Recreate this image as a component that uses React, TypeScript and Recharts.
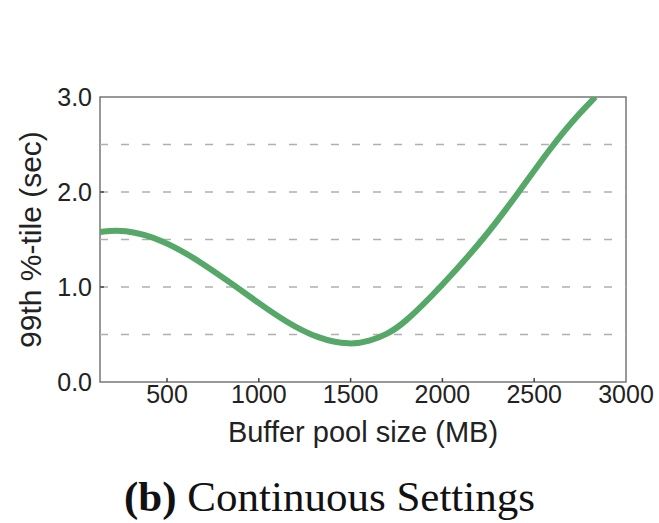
import { LineChart, Line, XAxis, YAxis, ReferenceLine, ReferenceArea } from 'recharts';

// buffer pool size (MB) vs 99th percentile latency (sec)
const bufferPoolMb = [135, 263, 476, 679, 864, 1000, 1141, 1326, 1500, 1604, 1696, 1788, 1992, 2232, 2417, 2583, 2713, 2833];
const latencySec = [1.58, 1.61, 1.5, 1.27, 1.02, 0.83, 0.64, 0.45, 0.39, 0.43, 0.5, 0.61, 1.0, 1.52, 2.0, 2.45, 2.76, 3.0];

const xTicks = [500, 1000, 1500, 2000, 2500, 3000];
const yTicks = [0, 1, 2, 3];
const gridValues = [0.5, 1, 1.5, 2, 2.5];

const data = bufferPoolMb.map((mb, i) => ({ mb, value: latencySec[i] }));

const FONT = '"Liberation Sans", Arial, Helvetica, sans-serif';
const TICK_FONT = 25;

// x tick: label below, short mark pointing up into the plot
const XTick = (props: any) => {
  const { x, y, payload } = props;
  const axisY = y - 3;
  return (
    <g>
      {payload.value < 3000 && (
        <line x1={x} y1={axisY} x2={x} y2={axisY - 4} stroke="#444" strokeWidth={1.5} />
      )}
      <text x={x} y={y} dy="0.71em" textAnchor="middle" fill="#222" fontSize={TICK_FONT} fontFamily={FONT}>
        {payload.value}
      </text>
    </g>
  );
};

// y tick: label left, short mark pointing right into the plot
const YTick = (props: any) => {
  const { x, y, payload } = props;
  const axisX = x + 8;
  return (
    <g>
      {payload.value > 0 && payload.value < 3 && (
        <line x1={axisX} y1={y} x2={axisX + 4} y2={y} stroke="#444" strokeWidth={1.5} />
      )}
      <text x={x} y={y} dy="0.355em" textAnchor="end" fill="#222" fontSize={TICK_FONT} fontFamily={FONT}>
        {payload.value.toFixed(1)}
      </text>
    </g>
  );
};

export default function App() {
  return (
    <div style={{ position: 'absolute', left: 0, top: 0, width: 659, height: 523, background: '#fff' }}>
      <LineChart
        width={659}
        height={523}
        data={data}
        margin={{ top: 97, right: 33, left: 0, bottom: 0 }}
      >
        <XAxis
          dataKey="mb"
          type="number"
          domain={[135, 3000]}
          ticks={xTicks}
          allowDataOverflow
          axisLine={false}
          tickLine={false}
          tickSize={0}
          tickMargin={3}
          height={141}
          tick={<XTick />}
          label={{
            value: 'Buffer pool size (MB)',
            position: 'insideBottom',
            offset: 81,
            style: { fontSize: 29, fontFamily: FONT, fill: '#222' },
          }}
        />
        <YAxis
          type="number"
          domain={[0, 3]}
          ticks={yTicks}
          allowDataOverflow
          axisLine={false}
          tickLine={false}
          tickSize={0}
          tickMargin={8}
          width={100}
          tick={<YTick />}
          label={{
            value: '99th %-tile (sec)',
            angle: -90,
            position: 'insideLeft',
            offset: 30,
            style: { textAnchor: 'middle', fontSize: 30, fontFamily: FONT, fill: '#222' },
          }}
        />
        {gridValues.map((v) => (
          <ReferenceLine key={v} y={v} stroke="#b0b0b0" strokeWidth={1.5} strokeDasharray="8 13" />
        ))}
        <ReferenceArea x1={135} x2={3000} y1={0} y2={3} fill="none" stroke="#777" strokeWidth={1.5} />
        <Line
          type="basis"
          dataKey="value"
          stroke="#55a868"
          strokeWidth={6}
          dot={false}
          isAnimationActive={false}
        />
      </LineChart>
      <div
        style={{
          position: 'absolute',
          left: 0,
          top: 472,
          width: 659,
          textAlign: 'center',
          fontFamily: '"Liberation Serif", "Times New Roman", serif',
          fontSize: 43,
          color: '#111',
          lineHeight: '50px',
        }}
      >
        <b>(b)</b> Continuous Settings
      </div>
    </div>
  );
}
